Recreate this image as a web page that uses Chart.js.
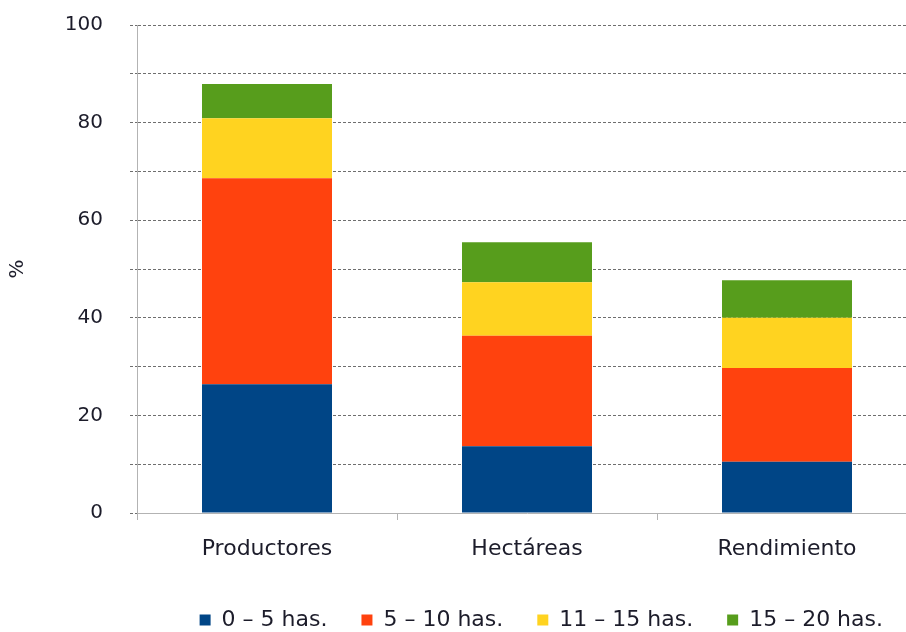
<!DOCTYPE html>
<html>
<head>
<meta charset="utf-8">
<script src="https://cdn.jsdelivr.net/npm/chart.js@4"></script>
<style>
  html, body { margin: 0; padding: 0; background: #fff; overflow: hidden; }
  #wrap { width: 920px; height: 632px; }
</style>
</head>
<body>
<div id="wrap"><canvas id="myChart"></canvas></div>
<script>
// categories and the share (%) of each farm-size group
const categories = ["Productores", "Hectáreas", "Rendimiento"];
const groupLabels = ["0 \u2013 5 has.", "5 \u2013 10 has.", "11 \u2013 15 has.", "15 \u2013 20 has."];
const group0to5 = [26.4, 13.7, 10.5];
const group5to10 = [42.2, 22.6, 19.2];
const group11to15 = [12.3, 11.0, 10.3];
const group15to20 = [7.0, 8.2, 7.7];
const groupColors = ["#004586", "#ff420e", "#ffd320", "#579d1c"];
const yTicks = [0, 20, 40, 60, 80, 100];

const textColor = "#1c1c2a";
const fontFamily = "'DejaVu Sans', Verdana, sans-serif";

const seriesValues = [group0to5, group5to10, group11to15, group15to20];

const datasets = seriesValues.map(function (vals, i) {
  return {
    label: groupLabels[i],
    data: vals,
    backgroundColor: groupColors[i],
    borderWidth: 0,
    categoryPercentage: 0.5,
    barPercentage: 1.0,
  };
});

new Chart("myChart", {
  type: "bar",
  data: { labels: categories, datasets: datasets },
  options: {
    responsive: true,
    maintainAspectRatio: false,
    animation: false,
    layout: { padding: { top: 25, right: 3, bottom: -9, left: 0 } },
    plugins: {
      tooltip: { enabled: false },
      legend: {
        position: "bottom",
        align: "end",
        fullSize: false,
        labels: {
          boxWidth: 11,
          boxHeight: 11,
          padding: 34,
          color: textColor,
          font: { family: fontFamily, size: 22 },
        },
      },
    },
    scales: {
      x: {
        stacked: true,
        border: { color: "#b3b3b3", width: 1 },
        grid: {
          offset: true,
          drawOnChartArea: false,
          drawTicks: true,
          tickLength: 7,
          color: "#b3b3b3",
        },
        ticks: {
          padding: 16,
          color: textColor,
          font: { family: fontFamily, size: 22 },
        },
        afterFit: function (scale) {
          scale.height = 62;
        },
      },
      y: {
        stacked: true,
        min: 0,
        max: 100,
        // in v4 border.dash also dashes the grid lines
        border: { color: "#b3b3b3", width: 1, dash: [3, 2] },
        grid: {
          color: "#6e6e6e",
          tickBorderDash: [3, 2],
          tickLength: 7,
        },
        ticks: {
          stepSize: 10,
          padding: 27,
          color: textColor,
          font: { family: fontFamily, size: 20 },
          callback: function (v) {
            return yTicks.indexOf(v) >= 0 ? v : "";
          },
        },
        title: {
          display: true,
          text: "%",
          color: textColor,
          padding: { top: 6, bottom: 0 },
          font: { family: fontFamily, size: 20 },
        },
        afterFit: function (scale) {
          scale.width = 137;
          // the label padding should not push the plot area down
          scale.paddingTop = 12;
          scale.paddingBottom = 12;
        },
      },
    },
  },
});
</script>
</body>
</html>
